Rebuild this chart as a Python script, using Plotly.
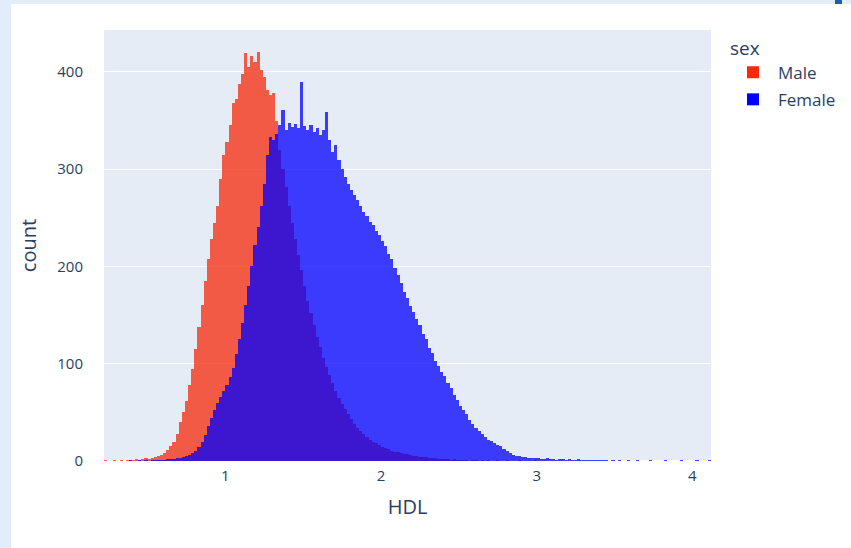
import plotly.graph_objects as go

# HDL histogram, pre-binned counts per sex (bin width 0.02 mmol/L, first edge 0.22)
BIN_START = 0.22
BIN_SIZE = 0.02

male_counts = [
    1, 0, 0, 1, 0, 1, 0, 1, 1, 1,
    2, 1, 2, 3, 2, 3, 4, 5, 6, 8,
    11, 15, 20, 28, 40, 50, 62, 78, 95, 115,
    138, 160, 185, 208, 228, 245, 262, 290, 315, 328,
    345, 368, 372, 388, 398, 420, 405, 416, 410, 421,
    402, 395, 381, 376, 378, 350, 320, 300, 282, 262,
    245, 228, 212, 196, 180, 165, 152, 140, 128, 117,
    106, 97, 88, 80, 72, 65, 59, 53, 48, 43,
    38, 34, 31, 28, 25, 22, 20, 18, 16, 14,
    13, 12, 10, 9, 9, 8, 7, 7, 6, 5,
    5, 4, 4, 4, 3, 3, 3, 2, 2, 2,
    2, 1, 2, 1, 1, 1, 1, 0, 1, 1,
    0, 1, 0, 1, 0, 0, 1, 0, 0, 1,
    0, 0, 0, 1, 0, 0, 0, 0, 1,
]

female_counts = [
    0, 0, 0, 0, 0, 0, 0, 0, 1, 0,
    0, 1, 0, 1, 0, 1, 1, 1, 1, 1,
    2, 2, 2, 3, 3, 4, 5, 6, 8, 10,
    14, 20, 27, 36, 44, 52, 60, 66, 72, 78,
    86, 96, 110, 125, 142, 160, 180, 200, 222, 241,
    262, 285, 315, 333, 330, 336, 345, 361, 340, 348,
    343, 347, 342, 390, 344, 340, 345, 338, 342, 335,
    340, 359, 330, 318, 325, 310, 300, 292, 285, 279,
    273, 268, 262, 256, 252, 246, 243, 236, 232, 226,
    221, 213, 208, 198, 191, 183, 174, 168, 159, 153,
    146, 140, 131, 125, 116, 111, 103, 98, 92, 87,
    80, 75, 68, 63, 57, 52, 48, 42, 38, 34,
    31, 28, 25, 22, 21, 19, 16, 15, 12, 10,
    8, 6, 5, 5, 4, 4, 3, 3, 3, 3,
    2, 2, 3, 2, 2, 1, 2, 2, 1, 2,
    1, 1, 2, 1, 1, 1, 1, 1, 1, 1,
    1, 1, 0, 1, 0, 1, 0, 0, 1, 0,
    0, 1, 0, 0, 0, 1, 0, 0, 0, 0,
    1, 0, 0, 0, 0, 1, 0, 0, 0, 0,
    1, 0, 0, 0, 1,
]

sexes = ["Male", "Female"]
series = {"Male": male_counts, "Female": female_counts}
colors = {"Male": "#F52A0A", "Female": "#0000FF"}

W, H = 851, 548
M_L, M_R, M_T, M_B = 104, 140, 30, 87


def bin_centers(n):
    return [round(BIN_START + (i + 0.5) * BIN_SIZE, 3) for i in range(n)]


fig = go.Figure()
for sex in sexes:
    counts = series[sex]
    fig.add_trace(
        go.Histogram(
            x=bin_centers(len(counts)),
            y=counts,
            histfunc="sum",
            name=sex,
            legendgroup=sex,
            xbins=dict(start=BIN_START, end=BIN_START + BIN_SIZE * len(counts), size=BIN_SIZE),
            marker=dict(color=colors[sex], opacity=0.75),
        )
    )

# light blue page frame around the white figure card
pw, ph = W - M_L - M_R, H - M_T - M_B
px = lambda v: (v - M_L) / pw
py = lambda v: (H - M_B - v) / ph
frame = "#E1EDFB"
fig.add_shape(type="rect", xref="paper", yref="paper", layer="below",
              x0=px(0), x1=px(11), y0=py(H), y1=py(0), fillcolor=frame, line_width=0)
fig.add_shape(type="rect", xref="paper", yref="paper", layer="below",
              x0=px(0), x1=px(W), y0=py(4), y1=py(0), fillcolor=frame, line_width=0)
fig.add_shape(type="rect", xref="paper", yref="paper", layer="below",
              x0=px(835), x1=px(842), y0=py(4), y1=py(0), fillcolor="#1F5FA8", line_width=0)

fig.update_layout(
    template="plotly",
    width=W,
    height=H,
    margin=dict(l=M_L, r=M_R, t=M_T, b=M_B, autoexpand=False),
    barmode="overlay",
    bargap=0,
    paper_bgcolor="white",
    plot_bgcolor="#E5ECF6",
    font=dict(family="Open Sans, sans-serif", size=15, color="#2a3f5f"),
    legend=dict(title=dict(text="sex", font=dict(size=19)), font=dict(size=17),
                x=1.028, y=1, itemwidth=40, tracegroupgap=2),
    xaxis=dict(title=dict(text="HDL", font=dict(size=20)), showgrid=False,
               zeroline=False, dtick=1, ticks="outside", ticklen=1,
               tickcolor="white", tickfont=dict(size=15)),
    yaxis=dict(title=dict(text="count", font=dict(size=20)), gridcolor="white",
               tickvals=[0, 100, 200, 300, 400], ticks="outside", ticklen=17,
               tickcolor="white", tickfont=dict(size=15)),
)

fig.write_html("out.html")
